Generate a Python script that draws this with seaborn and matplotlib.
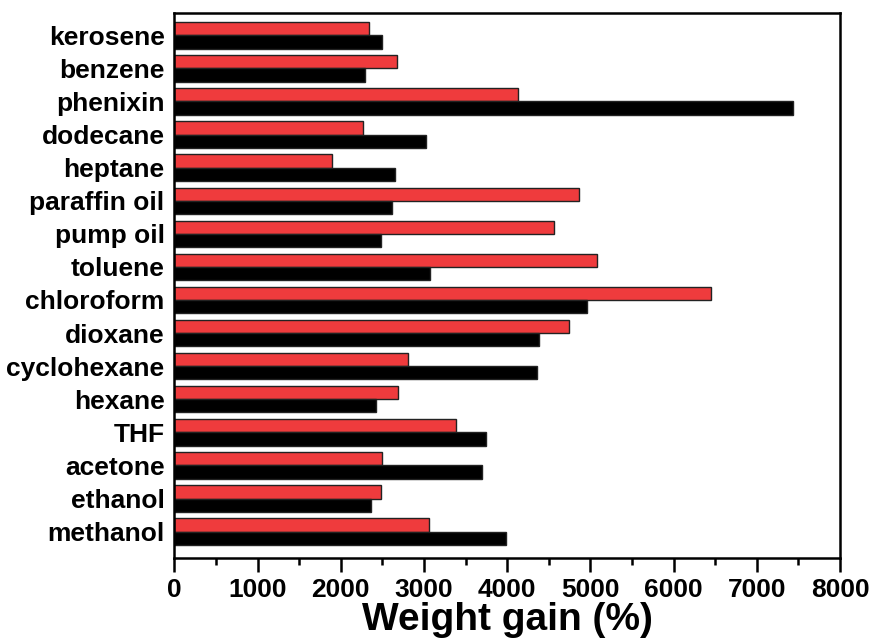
import numpy as np
import pandas as pd
import seaborn as sns
from matplotlib import pyplot as plt
from matplotlib.ticker import MultipleLocator

solvents = ["kerosene", "benzene", "phenixin", "dodecane", "heptane",
            "paraffin oil", "pump oil", "toluene", "chloroform", "dioxane",
            "cyclohexane", "hexane", "THF", "acetone", "ethanol", "methanol"]
gain_red = [2340, 2670, 4130, 2270, 1890, 4860, 4560, 5080,
            6450, 4740, 2810, 2690, 3380, 2490, 2480, 3060]
gain_black = [2500, 2290, 7430, 3020, 2650, 2610, 2480, 3070,
              4960, 4380, 4360, 2420, 3740, 3700, 2360, 3990]

df = pd.DataFrame({
    "solvent": solvents * 2,
    "series": ["red"] * len(solvents) + ["black"] * len(solvents),
    "gain": gain_red + gain_black,
})

sns.set_style("ticks")
plt.rcParams['font.family'] = ['Liberation Sans', 'DejaVu Sans']
plt.rcParams['font.weight'] = 'bold'
plt.rcParams['text.color'] = 'black'
plt.rcParams['xtick.color'] = 'black'
plt.rcParams['ytick.color'] = 'black'
plt.rcParams['axes.labelcolor'] = 'black'

fig = plt.figure(figsize=(8.76, 6.4), dpi=100)
ax = fig.add_axes([0.199, 0.128, 0.76, 0.852])

sns.barplot(data=df, x="gain", y="solvent", hue="series", orient="h",
            order=solvents, hue_order=["red", "black"],
            palette={"red": "#ef3b3d", "black": "#000000"}, saturation=1,
            width=0.8, edgecolor="#222222", linewidth=1.0,
            legend=False, ax=ax)

ax.set_xlim(0, 8000)
ax.set_ylim(15.8, -0.68)
ax.xaxis.set_major_locator(MultipleLocator(1000))
ax.xaxis.set_minor_locator(MultipleLocator(500))
ax.tick_params(axis="x", which="major", direction="out", length=10, width=1.8,
               labelsize=19, pad=4)
ax.tick_params(axis="x", which="minor", direction="out", length=5, width=1.8)
ax.tick_params(axis="y", length=0, labelsize=19, pad=7)
for lab in ax.get_xticklabels() + ax.get_yticklabels():
    lab.set_fontweight("bold")
for sp in ax.spines.values():
    sp.set_visible(True)
    sp.set_linewidth(1.8)
    sp.set_color("black")

ax.set_ylabel("")
ax.set_xlabel("Weight gain (%)", fontsize=28, fontweight="bold", labelpad=0)

fig.savefig("out.png", dpi=100)
